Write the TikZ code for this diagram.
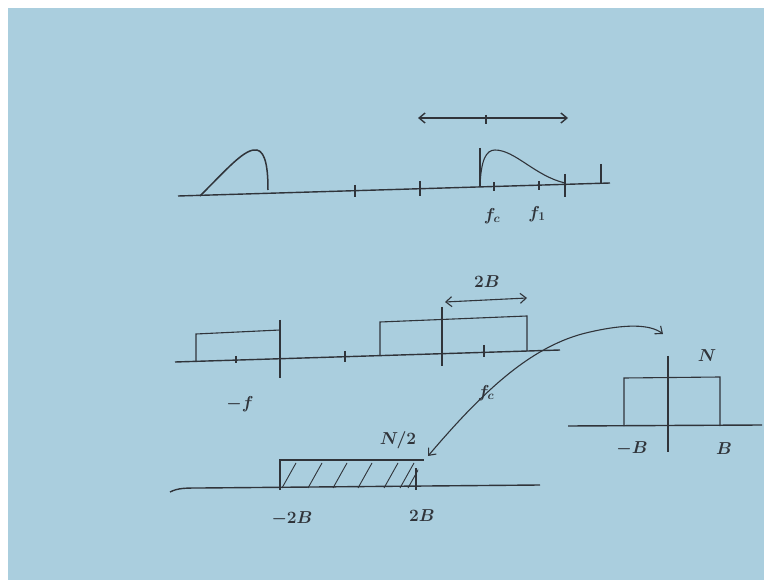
\documentclass[tikz,border=0pt]{standalone}
\usepackage{amsmath}
\usetikzlibrary{arrows.meta,positioning}
\definecolor{board}{RGB}{170,206,222}
\definecolor{chalk}{RGB}{48,52,58}

\begin{document}
\begin{tikzpicture}[
    x=1pt, y=-1pt,
    every node/.style={align=center, text=chalk, font=\fontsize{17}{20}\selectfont\boldmath},
    axisline/.style={draw=chalk, line width=1.4pt},
    pen/.style={draw=chalk, line width=1.1pt},
    tick/.style={draw=chalk, line width=1.1pt},
    arrow/.style={pen, <->, >={Straight Barb[length=6pt,width=10pt]}},
    hatch/.style={draw=chalk, line width=0.9pt}
]
\useasboundingbox (0,0) rectangle (764,580);
\fill[white] (0,0) rectangle (764,580);
\fill[board] (8,8) rectangle (764,580);

% Spectrum of the bandpass signal
\coordinate (top_l) at (178,196);
\coordinate (top_r) at (610,183);
\draw[axisline] (top_l) -- (top_r);
\draw[tick] (355,185) -- (355,197);
\draw[tick] (420,181) -- (420,196);
\draw[tick] (480,148) -- (480,187);
\draw[tick] (494,182) -- (494,191);
\draw[tick] (539,181) -- (539,190);
\draw[tick] (565,174) -- (565,197);
\draw[tick] (601,164) -- (601,183);
\draw[pen, line width=1.5pt] (200,196) .. controls (228,168) and (245,148) .. (257,150)
    .. controls (266,152) and (268,170) .. (268,190);
\draw[pen] (480,186) .. controls (481,160) and (486,150) .. (495,150)
    .. controls (515,150) and (535,176) .. (565,183);
\coordinate (band_l) at (418,118);
\coordinate (band_r) at (568,118);
\draw[arrow, line width=1.4pt] (band_l) -- (band_r);
\draw[tick] (486,115) -- (486,124);
\node (fc_top) at (492,216) {$f_c$};
\node (f1_top) at (537,214) {$f_1$};

% Ideal bandpass
\coordinate (mid_l) at (175,362);
\coordinate (mid_r) at (560,350);
\draw[axisline] (mid_l) -- (mid_r);
\draw[pen] (196,362) -- (196,334) -- (280,330);
\draw[tick] (280,320) -- (280,378);
\draw[tick] (236,356) -- (236,363);
\draw[tick] (345,351) -- (345,362);
\draw[pen] (380,356) -- (380,322) -- (527,316) -- (527,351);
\draw[tick] (442,307) -- (442,366);
\draw[tick] (484,345) -- (484,357);
\node (mfc_mid) at (240,404) {$-f$};
\node (fc_mid) at (486,393) {$f_c$};
\coordinate (bw_l) at (445,302);
\coordinate (bw_r) at (527,298);
\draw[arrow] (bw_l) -- (bw_r);
\node (bw) at (487,282) {$2B$};

% Lowpass equivalent
\coordinate (low_l) at (568,426);
\coordinate (low_r) at (762,425);
\draw[axisline] (low_l) -- (low_r);
\draw[pen] (624,426) -- (624,378) -- (720,377) -- (720,426);
\draw[tick] (668,356) -- (668,452);
\node (n_low) at (707,356) {$N$};
\node (mb_low) at (632,449) {$-B$};
\node (b_low) at (724,449) {$B$};

% Baseband spectrum
\coordinate (base_l) at (170,492);
\coordinate (base_r) at (540,485);
\draw[axisline] (base_l) .. controls (178,488) and (185,488) .. (200,488) -- (base_r);
\draw[pen] (280,490) -- (280,460) -- (424,460);
\draw[tick] (416,468) -- (416,490);
\begin{scope}
  \clip (280,460) rectangle (418,488);
  \foreach \hx in {282,308,333,358,384,400,408}
    \draw[hatch] (\hx,488) -- (\hx+14,463);
\end{scope}
\node (mb_base) at (292,519) {$-2B$};
\node (b_base) at (422,516) {$2B$};
\node (n_base) at (398,440) {$N/2$};

% Mapping between the two
\coordinate (to_base) at (428,456);
\coordinate (to_low) at (663,334);
\draw[arrow] (to_base) .. controls (480,395) and (530,345) .. (590,332)
    .. controls (625,324) and (650,324) .. (to_low);
\end{tikzpicture}
\end{document}
